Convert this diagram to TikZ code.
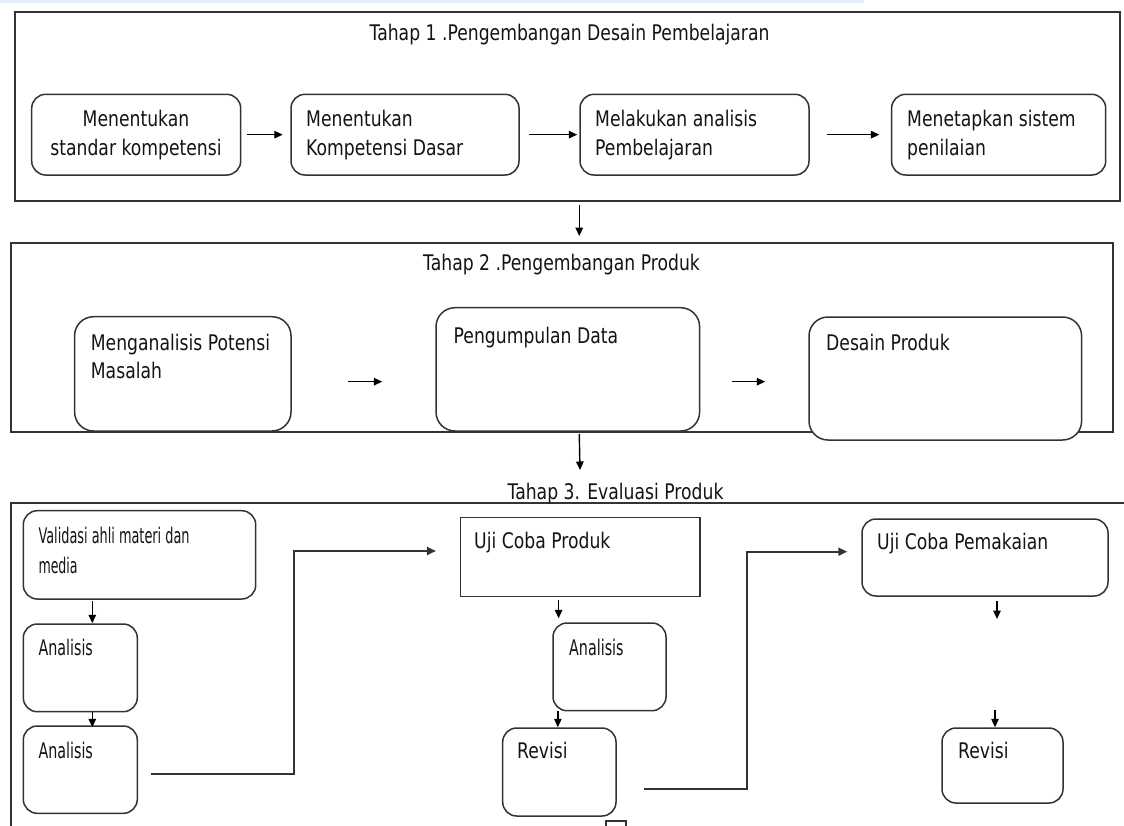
\documentclass[tikz,border=0pt]{standalone}
\usepackage{fontspec}
\newfontfamily\mainf[FakeStretch=0.8]{DejaVu Sans}
\newfontfamily\condf[FakeStretch=0.665]{DejaVu Sans}
\usetikzlibrary{arrows.meta,fit}
\definecolor{ln}{HTML}{333333}
\definecolor{tx}{HTML}{141414}
\definecolor{band}{HTML}{E3EEF8}
\begin{document}
\begin{tikzpicture}[x=1pt,y=-1pt,
 frame/.style={draw=ln, line width=1.8pt, inner sep=0pt, rectangle},
 rbox/.style={draw=ln, fill=white, line width=1.5pt, rounded corners=14pt, inner sep=0pt},
 rboxb/.style={rbox, rounded corners=19pt},
 sbox/.style={draw=ln, fill=white, line width=1.5pt, inner sep=0pt},
 txt/.style={font=\mainf\fontsize{21.5}{29}\selectfont, text=tx, inner sep=0pt, anchor=base west},
 ctxt/.style={font=\condf\fontsize{21.5}{29}\selectfont, text=tx, inner sep=0pt, anchor=base west},
 arr/.style={draw=black, line width=1.4pt, -{Triangle[length=8.5pt,width=7.5pt]}},
 conn/.style={draw=ln, line width=1.8pt, -{Triangle[length=9pt,width=8pt]}},
]
\useasboundingbox (0,0) rectangle (1124,825);
\fill[white] (0,0) rectangle (1124,825);
\fill[band] (0,0) rectangle (864,3);

% ---------- Tahap 1 ----------
\node[frame, fit={(15,11.7) (1120,201)}] (T1) {};
\node[txt, anchor=base] (T1t) at (569.5,40) {Tahap 1 .Pengembangan Desain Pembelajaran};
\node[rbox, fit={(31.7,94.3) (240.7,175)}] (b1) {};
\node[txt, anchor=base] (b1a) at (136,126) {Menentukan};
\node[txt, anchor=base] (b1b) at (136,155) {standar kompetensi};
\node[rbox, fit={(291,94.3) (519,175)}] (b2) {};
\node[txt] (b2a) at (306,126) {Menentukan};
\node[txt] (b2b) at (306,155) {Kompetensi Dasar};
\node[rbox, fit={(580,94.3) (809,175)}] (b3) {};
\node[txt] (b3a) at (595,126) {Melakukan analisis};
\node[txt] (b3b) at (595,155) {Pembelajaran};
\node[rbox, fit={(891.6,94.3) (1105.7,175)}] (b4) {};
\node[txt] (b4a) at (907,126) {Menetapkan sistem};
\node[txt] (b4b) at (907,155) {penilaian};
\draw[arr, shorten <=6pt, shorten >=7.5pt] (b1) -- (b2);
\draw[arr, shorten <=9pt, shorten >=2pt] (b2) -- (b3);
\draw[arr, shorten <=17pt, shorten >=11.5pt] (b3) -- (b4);

% ---------- Tahap 2 ----------
\node[frame, fit={(10.7,242.7) (1113,432)}] (T2) {};
\node[txt, anchor=base] (T2t) at (561.5,270) {Tahap 2 .Pengembangan Produk};
\node[rboxb, fit={(74.6,316.7) (291,431)}] (m1) {};
\node[txt] (m1a) at (90.7,350.7) {Menganalisis Potensi};
\node[txt] (m1b) at (90.7,378) {Masalah};
\node[rboxb, fit={(436,307.7) (699.6,431)}] (m2) {};
\node[txt] (m2a) at (453.5,343.3) {Pengumpulan Data};
\node[rboxb, fit={(809,317) (1081.6,440)}] (m3) {};
\node[txt] (m3a) at (826,350.7) {Desain Produk};
\draw[arr, shorten <=56.5pt, shorten >=53pt] ([yshift=-7.8pt]m1.east) -- ([yshift=-7.8pt]m1.east -| m2.west);
\draw[arr, shorten <=31.4pt, shorten >=43pt] ([yshift=-7.8pt]m1.east -| m2.east) -- ([yshift=-7.8pt]m1.east -| m3.west);
\draw[arr, shorten <=3pt, shorten >=5.7pt] (T1.south -| b3.west) -- (T2.north -| b3.west);

% ---------- Tahap 3 ----------
\coordinate (c23) at (580,470);
\draw[arr, shorten <=1pt] (T2.south -| b3.west) -- (c23);
\draw[draw=ln, line width=1.8pt] (1124,502.7) -- (10.7,502.7) -- (10.7,826);
\node[txt, anchor=base] (T3t) at (615.5,499) {Tahap 3. Evaluasi Produk};

\node[rbox, fit={(23.3,510.7) (255.7,599)}] (v1) {};
\node[ctxt] (v1a) at (38.3,543.3) {\scalebox{0.9}[1]{Validasi ahli materi dan}};
\node[ctxt] (v1b) at (38.3,573.3) {\scalebox{0.88}[1]{media}};
\node[rbox, fit={(23.3,624) (137.3,711.7)}] (a1) {};
\node[ctxt] (a1a) at (38.3,655.7) {Analisis};
\node[rbox, fit={(23.3,726) (137.3,813.3)}] (a2) {};
\node[ctxt] (a2a) at (38.3,758.3) {Analisis};

\node[sbox, fit={(460.7,517.3) (700,596.7)}] (u1) {};
\node[txt] (u1a) at (474,548) {Uji Coba Produk};
\node[rbox, fit={(553,623) (666,710.7)}] (a3) {};
\node[ctxt] (a3a) at (569,655) {Analisis};
\node[rbox, fit={(502.7,728) (616,816)}] (r1) {};
\node[txt] (r1a) at (517,758.3) {Revisi};

\node[rbox, fit={(862,519) (1108,596)}] (p1) {};
\node[txt] (p1a) at (877,549.3) {Uji Coba Pemakaian};
\node[rbox, fit={(942,728) (1063,803)}] (r2) {};
\node[txt] (r2a) at (958,758.3) {Revisi};

% arrows in Tahap 3
\draw[arr, shorten <=1pt] ([xshift=12pt]a1.north |- v1.south) -- ([xshift=12pt]a1.north);
\draw[arr, shorten >=-2pt] ([xshift=12pt]a1.south) -- ([xshift=12pt]a2.north);
\draw[conn, shorten <=12.7pt, shorten >=24pt] ([yshift=-4.3pt]a2.east) -- ++(156,0) |- ([yshift=6pt]u1.west);
\draw[arr, shorten <=3pt, shorten >=4pt] ([xshift=-21.75pt]u1.south) -- ([xshift=-21.75pt]u1.south |- a3.north);
\draw[arr] ([xshift=5.6pt]a3.south west |- a3.south) -- ([xshift=5.6pt]a3.south west |- r1.north);
\draw[conn, shorten <=27.5pt, shorten >=14pt] ([yshift=-17.3pt]r1.east) -- ++(130,0) |- ([yshift=5.8pt]p1.west);
\coordinate (q1) at (997,619);
\coordinate (q2) at (995,710);
\draw[arr, shorten <=4pt] (q1 |- p1.south) -- (q1);
\draw[arr] (q2) -- (q2 |- r2.north);

% small square at bottom
\draw[draw=ln, line width=1.3pt] (606,828) -- (606,821) -- (626,821) -- (626,828);
\end{tikzpicture}
\end{document}
